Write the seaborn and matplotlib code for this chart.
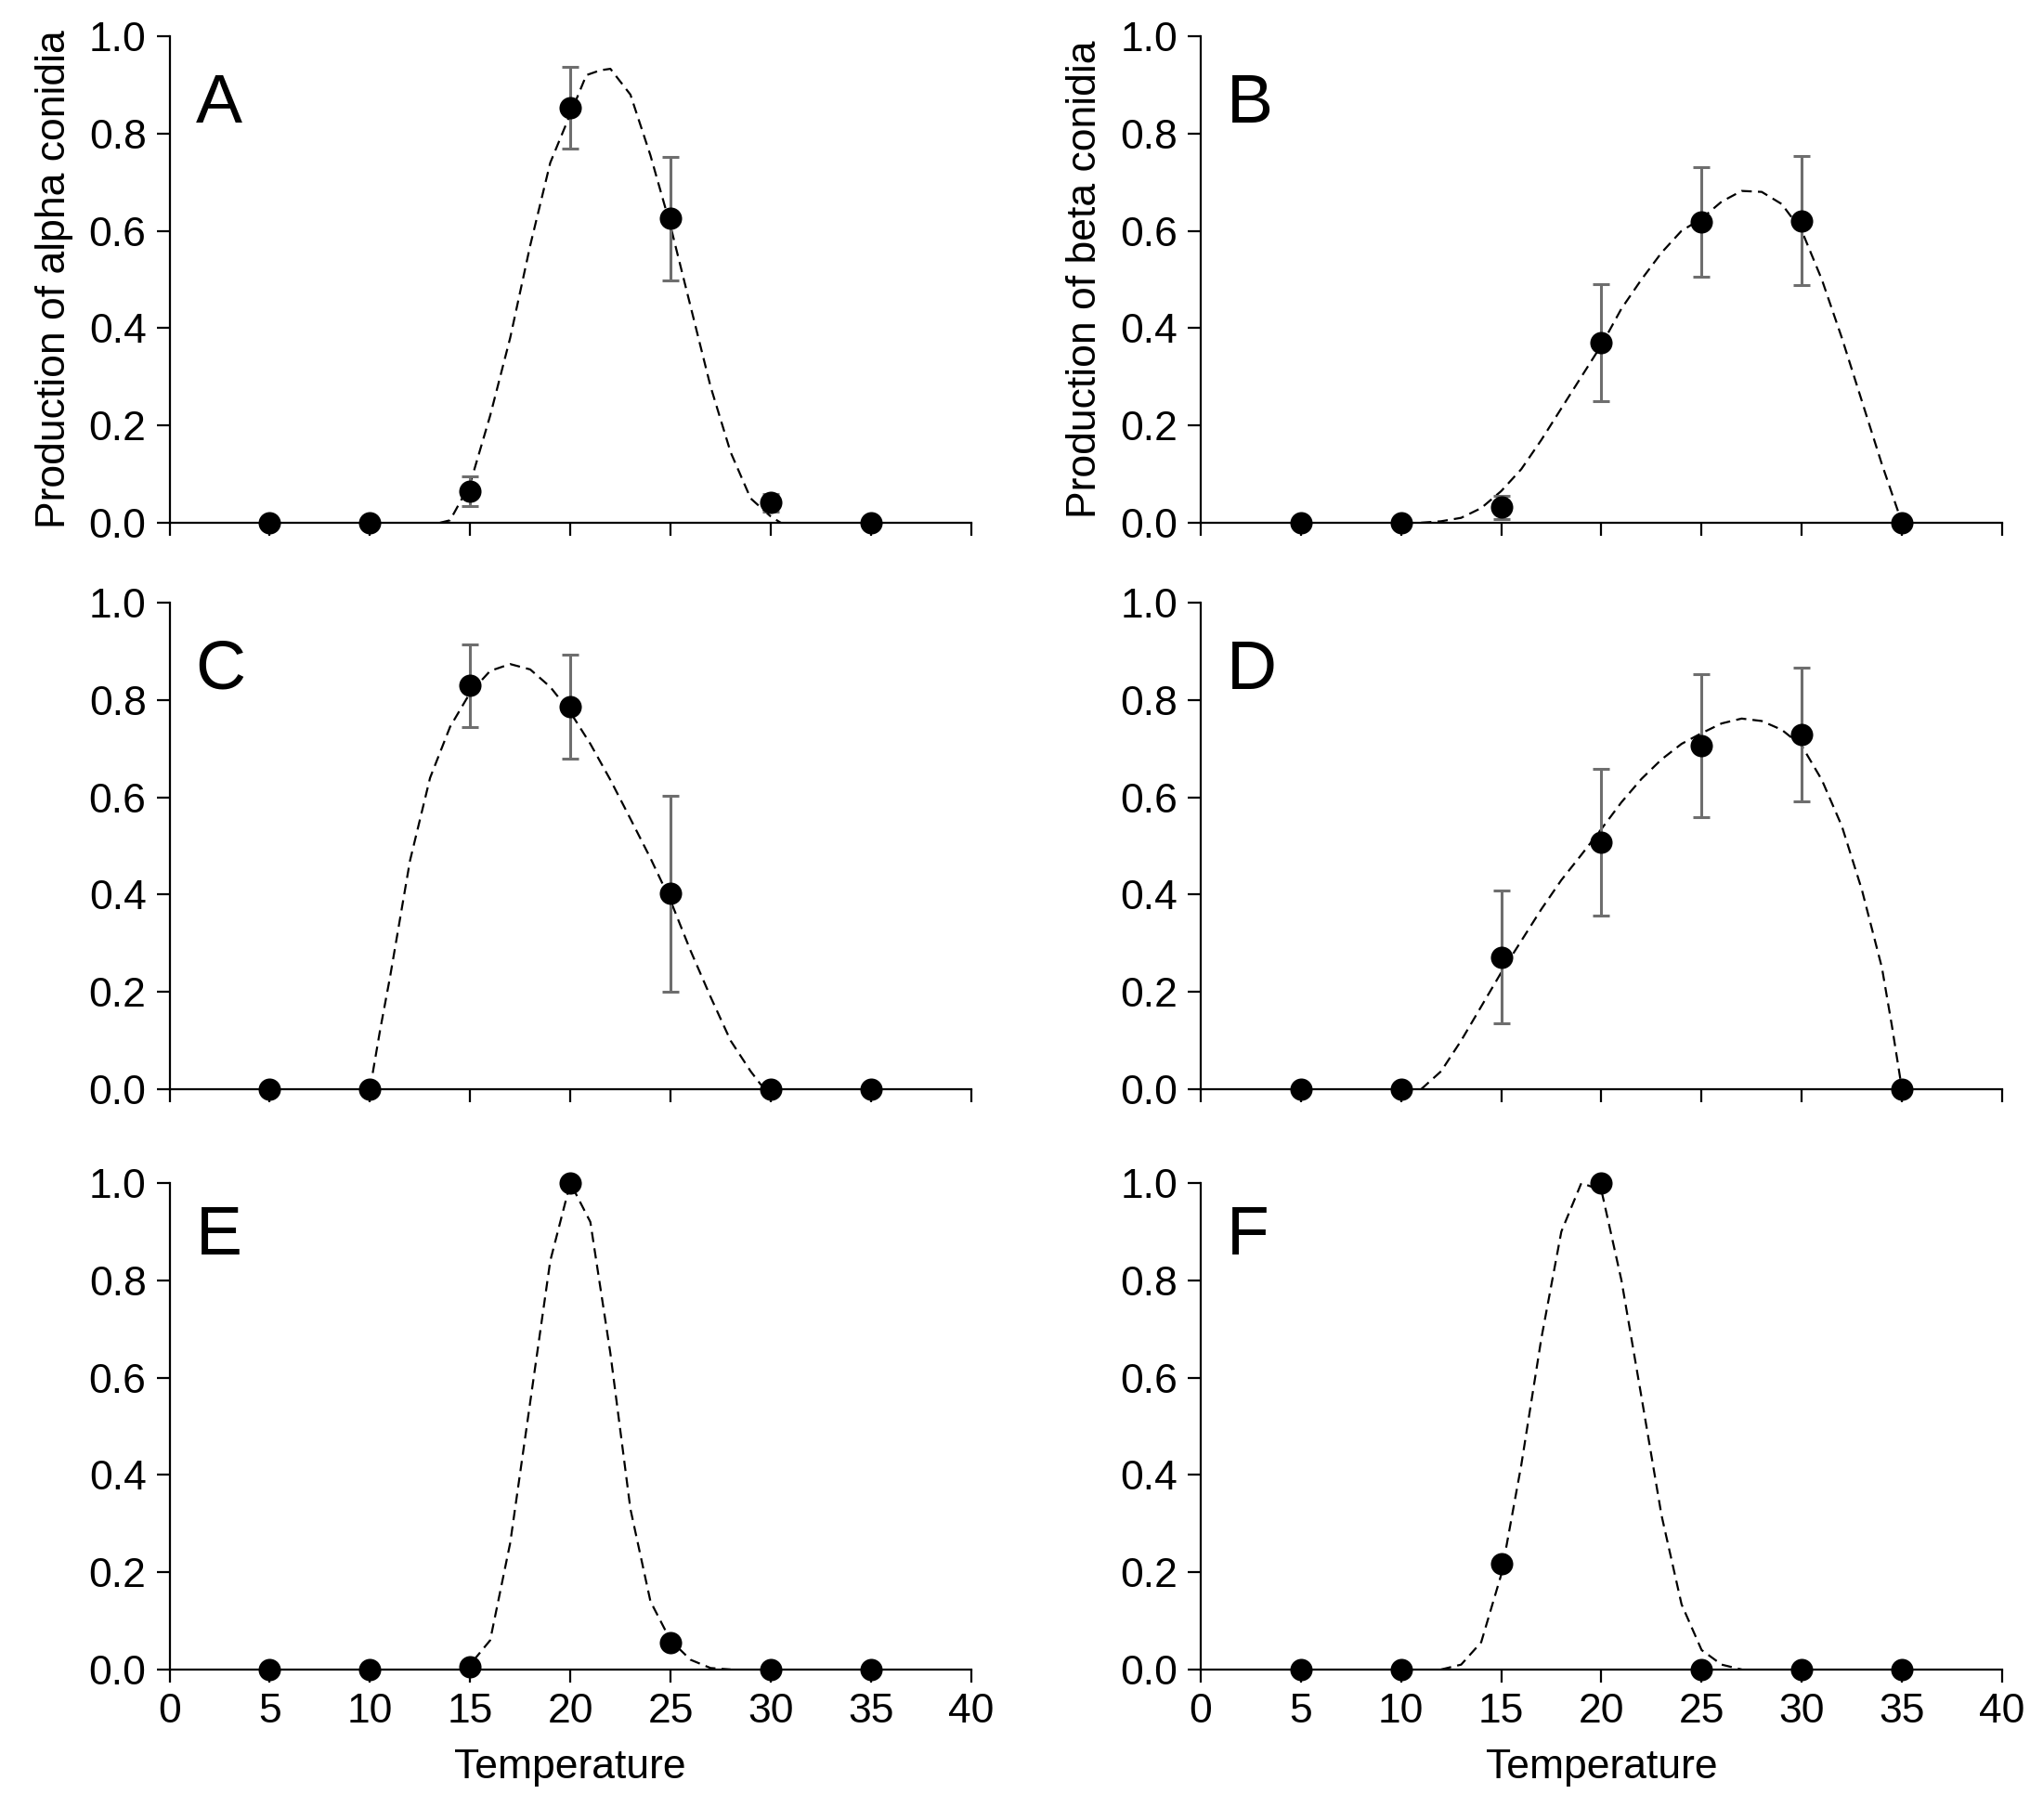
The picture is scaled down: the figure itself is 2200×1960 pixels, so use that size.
import numpy as np
import pandas as pd
import seaborn as sns
import matplotlib.pyplot as plt

# measured temperatures
temps = [5, 10, 15, 20, 25, 30, 35]

# observed means per panel
obs_A = [0, 0, 0.065, 0.853, 0.625, 0.041, 0]
obs_B = [0, 0, 0.032, 0.370, 0.618, 0.621, 0]
obs_C = [0, 0, 0.830, 0.786, 0.402, 0, 0]
obs_D = [0, 0, 0.272, 0.508, 0.706, 0.729, 0]
obs_E = [0, 0, 0.006, 1.0, 0.056, 0, 0]
obs_F = [0, 0, 0.217, 1.0, 0, 0, 0]

# error bar half widths (nan = none drawn)
err_A = [np.nan, np.nan, 0.031, 0.084, 0.127, 0.018, np.nan]
err_B = [np.nan, np.nan, 0.024, 0.120, 0.112, 0.133, np.nan]
err_C = [np.nan, np.nan, 0.085, 0.107, 0.201, np.nan, np.nan]
err_D = [np.nan, np.nan, 0.137, 0.151, 0.147, 0.137, np.nan]

# fitted curves
fit_x_A = [13.5, 14, 15, 16, 17, 18, 19, 20, 20.8, 21.5, 22, 23, 24, 25, 26, 27, 28, 29, 30, 30.5]
fit_y_A = [0, 0.005, 0.08, 0.22, 0.38, 0.57, 0.74, 0.84, 0.92, 0.93, 0.933, 0.88, 0.755, 0.61, 0.445, 0.28, 0.145, 0.05, 0.013, 0]

fit_x_B = [11, 12, 13, 14, 15, 16, 17, 18, 19, 20, 21, 22, 23, 24, 25, 26, 27, 28, 29, 30, 31, 32, 33, 34, 35]
fit_y_B = [0, 0.003, 0.01, 0.03, 0.065, 0.11, 0.17, 0.235, 0.30, 0.365, 0.44, 0.50, 0.555, 0.60, 0.625, 0.66, 0.682, 0.68, 0.655, 0.60, 0.50, 0.38, 0.25, 0.12, 0]

fit_x_C = [10, 10.5, 11, 11.5, 12, 13, 14, 15, 16, 17, 18, 19, 20, 21, 22, 23, 24, 25, 26, 27, 28, 29, 29.5, 30]
fit_y_C = [0, 0.12, 0.23, 0.35, 0.47, 0.64, 0.745, 0.815, 0.86, 0.874, 0.863, 0.827, 0.775, 0.71, 0.636, 0.556, 0.475, 0.388, 0.285, 0.19, 0.10, 0.037, 0.01, 0]

fit_x_D = [11, 12, 13, 14, 15, 16, 17, 18, 19, 20, 21, 22, 23, 24, 25, 26, 27, 28, 29, 30, 31, 32, 33, 34, 34.5, 35]
fit_y_D = [0, 0.037, 0.10, 0.17, 0.24, 0.305, 0.37, 0.43, 0.482, 0.535, 0.59, 0.638, 0.678, 0.71, 0.732, 0.752, 0.762, 0.757, 0.739, 0.706, 0.636, 0.541, 0.41, 0.25, 0.13, 0]

fit_x_E = [14.5, 15, 16, 17, 18, 19, 20, 21, 22, 23, 24, 25, 26, 27, 28]
fit_y_E = [0, 0.01, 0.06, 0.26, 0.55, 0.84, 1.0, 0.92, 0.65, 0.33, 0.14, 0.06, 0.02, 0.003, 0]

fit_x_F = [12, 13, 14, 15, 16, 17, 18, 19, 20, 21, 22, 23, 24, 25, 26, 27]
fit_y_F = [0, 0.01, 0.056, 0.195, 0.42, 0.68, 0.90, 1.0, 0.985, 0.80, 0.56, 0.317, 0.134, 0.04, 0.01, 0]

panel_letters = ["A", "B", "C", "D", "E", "F"]
ylabels = ["Production of alpha conidia", "Production of beta conidia"]
xticks = [0, 5, 10, 15, 20, 25, 30, 35, 40]
yticks = [0, 0.2, 0.4, 0.6, 0.8, 1.0]

sns.set_style("ticks")
plt.rcParams["font.family"] = ["Liberation Sans", "DejaVu Sans"]
plt.rcParams["text.color"] = "black"
plt.rcParams["axes.labelcolor"] = "black"
plt.rcParams["xtick.color"] = "black"
plt.rcParams["ytick.color"] = "black"

panels = [
    (obs_A, err_A, fit_x_A, fit_y_A),
    (obs_B, err_B, fit_x_B, fit_y_B),
    (obs_C, err_C, fit_x_C, fit_y_C),
    (obs_D, err_D, fit_x_D, fit_y_D),
    (obs_E, None, fit_x_E, fit_y_E),
    (obs_F, None, fit_x_F, fit_y_F),
]

fig = plt.figure(figsize=(22, 19.6), dpi=100)
lefts = [0.083, 0.5877]
bottoms = [0.7128, 0.4015, 0.0827]
w, h = 0.3923, 0.2673

for i, (obs, err, fx, fy) in enumerate(panels):
    row, col = divmod(i, 2)
    ax = fig.add_axes([lefts[col], bottoms[row], w, h])

    fit_df = pd.DataFrame({"x": fx, "y": fy})
    sns.lineplot(data=fit_df, x="x", y="y", ax=ax, color="black", lw=1.6,
                 dashes=False, linestyle=(0, (5, 3)), zorder=2)

    if err is not None:
        ax.errorbar(temps, obs, yerr=err, fmt="none", ecolor="#6e6e6e",
                    elinewidth=2.2, capsize=6.5, capthick=2.2, zorder=3)

    obs_df = pd.DataFrame({"t": temps, "v": obs})
    sns.scatterplot(data=obs_df, x="t", y="v", ax=ax, color="black", s=300,
                    edgecolor="black", linewidth=0, zorder=4, clip_on=False)

    ax.set_xlim(0, 40)
    ax.set_ylim(0, 1.0)
    ax.set_xticks(xticks)
    ax.set_yticks(yticks)
    ax.set_yticklabels([f"{v:.1f}" for v in yticks])
    ax.tick_params(axis="both", direction="out", length=10, width=1.6,
                   labelsize=32, color="black", labelcolor="black", pad=8)
    if row < 2:
        ax.set_xticklabels([])
    sns.despine(ax=ax)
    for sp in ["left", "bottom"]:
        ax.spines[sp].set_linewidth(1.6)
        ax.spines[sp].set_color("black")

    ax.set_xlabel("Temperature" if row == 2 else "", fontsize=32, labelpad=14)
    ax.set_ylabel(ylabels[col] if row == 0 else "", fontsize=32, labelpad=12)

    ly = 0.89 if row == 2 else 0.86
    ax.text(1.3, ly, panel_letters[i], fontsize=54, ha="left", va="center",
            color="black")

fig.savefig("out.png", dpi=100)
